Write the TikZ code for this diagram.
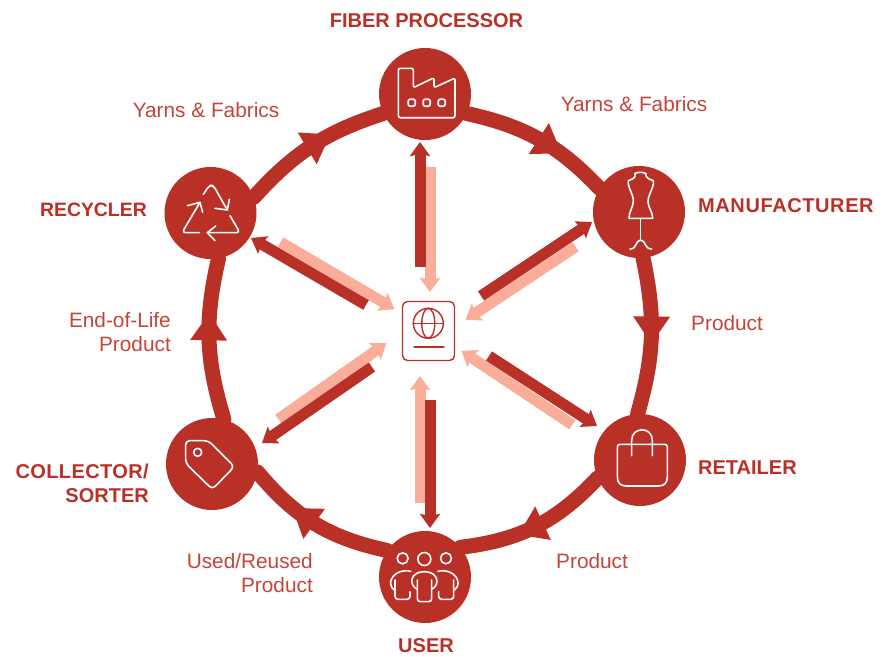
\documentclass[tikz,border=0pt]{standalone}
\usepackage{fontspec}
\setmainfont{Liberation Sans}
\usetikzlibrary{arrows.meta,decorations.markings,backgrounds}
\definecolor{rust}{HTML}{B93027}
\definecolor{salmon}{HTML}{FAAE9A}
\definecolor{labelred}{HTML}{C5443A}
\tikzset{
  x=1pt,y=-1pt,
  hub/.style={circle,fill=rust,minimum size=92pt,inner sep=0pt},
  ring/.style={draw=rust,line width=15pt,line cap=round,decoration={markings,mark=at position #1 with {\fill[rust] (13.5pt,0pt) -- (-13.5pt,18.5pt) -- (-13.5pt,-18.5pt) -- cycle;}},postaction=decorate},
  spokedark/.style={draw=rust,line width=11pt,-{Stealth[inset=2pt,length=14pt,width=20pt]}},
  spokelight/.style={draw=salmon,line width=11pt,-{Stealth[inset=2pt,length=14pt,width=20pt]}},
  icon/.style={draw=white,line width=1.6pt,line cap=round,line join=round,rounded corners=2pt},
  iconb/.style={draw=rust,line width=1.4pt,line cap=round},
  actor/.style={text=rust,font=\fontsize{20}{24}\selectfont\bfseries,align=center,inner sep=0pt},
  flow/.style={text=labelred,font=\fontsize{20.8}{24}\selectfont,inner sep=0pt},
}
\begin{document}
\begin{tikzpicture}
\useasboundingbox (0,0) rectangle (891,656);
% hubs
\node[hub] (fp) at (425,94) {};
\node[hub] (man) at (639,212) {};
\node[hub] (ret) at (640,460) {};
\node[hub] (usr) at (425,577) {};
\node[hub] (col) at (212,464) {};
\node[hub] (rec) at (210.5,213) {};
\node[draw=rust,line width=1.4pt,rounded corners=5pt,minimum width=52pt,minimum height=59pt,inner sep=0pt] (pass) at (428.5,331) {};
% ring
\begin{pgfonlayer}{background}
\draw[ring=0.58] (fp.-25) to[bend left=17] (man.149);
\draw[ring=0.46] (man.-85) to[bend left=14] (ret.93);
\draw[ring=0.536] (ret.203) to[bend left=20] (usr.40);
\draw[ring=0.59] (usr.145) to[bend left=19] (col.-10);
\draw[ring=0.577] (col.75) to[bend left=15] (rec.-80);
\draw[ring=0.55] (rec.20) to[bend left=15] (fp.205);
\end{pgfonlayer}
% spoke ends
\coordinate (a1) at (430,167); \coordinate (a2) at (430,292);
\coordinate (b1) at (420,267); \coordinate (b2) at (420,142);
\coordinate (c1) at (575.6,246.8); \coordinate (c2) at (465.6,319.8);
\coordinate (d1) at (481,296); \coordinate (d2) at (592,222);
\coordinate (e1) at (572.4,424.8); \coordinate (e2) at (461.4,350.8);
\coordinate (f1) at (489,356); \coordinate (f2) at (597,426);
\coordinate (g1) at (420,503); \coordinate (g2) at (420,376);
\coordinate (h1) at (430,400); \coordinate (h2) at (430,528);
\coordinate (i1) at (278.4,419.2); \coordinate (i2) at (386.4,343.2);
\coordinate (j1) at (372,367); \coordinate (j2) at (262,443);
\coordinate (k1) at (280.5,242.1); \coordinate (k2) at (394.5,309.1);
\coordinate (l1) at (366,305); \coordinate (l2) at (251,238);
\draw[spokelight] (a1) -- (a2); \draw[spokedark] (b1) -- (b2);
\draw[spokelight] (c1) -- (c2); \draw[spokedark] (d1) -- (d2);
\draw[spokelight] (e1) -- (e2); \draw[spokedark] (f1) -- (f2);
\draw[spokelight] (g1) -- (g2); \draw[spokedark] (h1) -- (h2);
\draw[spokelight] (i1) -- (i2); \draw[spokedark] (j1) -- (j2);
\draw[spokelight] (k1) -- (k2); \draw[spokedark] (l1) -- (l2);
% passport icon
\draw[iconb] (428.3,323.3) circle[radius=15pt];
\draw[iconb] (428.3,323.3) ellipse[x radius=6.5pt,y radius=15pt];
\draw[iconb] (413.3,323.3) -- (443.3,323.3);
\draw[iconb] (414,347) -- (444,347);
% factory
\draw[icon] (398.3,117.7) -- (398.3,68.3) -- (413.3,68.3) -- (413.3,87.7) -- (434,77.7) -- (434,87.7) -- (455,78) -- (455,117.7) -- cycle;
\foreach \wx in {411.7,426.7,441.7}{\draw[icon] (\wx-3.5,99.2) rectangle (\wx+3.5,106.2);}
% recycle
\begin{scope}[shift={(150,150)},x=0.3333pt,y=-0.3333pt]
\draw[icon,rounded corners=3.5pt] (160,133) -- (178,106) -- (190,106) -- (232,180);
\draw[icon,rounded corners=0pt] (195,175) -- (232,180) -- (238,148);
\draw[icon,rounded corners=3.5pt] (150,157) -- (96,248) -- (148,248);
\draw[icon,rounded corners=0pt] (112,167) -- (150,157) -- (158,187);
\draw[icon,rounded corners=3.5pt] (240,197) -- (270,248) -- (172,248);
\draw[icon,rounded corners=0pt] (197,228) -- (172,248) -- (195,272);
\end{scope}
% dress form
\begin{scope}[shift={(580,150)},x=0.3333pt,y=-0.3333pt]
\draw[icon,rounded corners=0pt] (165,70) .. controls (168,84) and (160,86) .. (145,92) -- (145,102) .. controls (150,125) and (162,140) .. (160,155) .. controls (158,175) and (147,185) .. (147,205) -- (218,205) .. controls (218,185) and (205,175) .. (204,155) .. controls (203,140) and (215,125) .. (220,102) -- (220,92) .. controls (205,86) and (197,84) .. (197,70) .. controls (187,66) and (175,66) .. (165,70) -- cycle;
\draw[icon] (182,205) -- (182,268);
\draw[icon,rounded corners=0pt] (150,297) .. controls (172,297) and (165,272) .. (182,270) .. controls (199,272) and (192,297) .. (215,297);
\end{scope}
% tag
\begin{scope}[shift={(155,410)},x=0.3333pt,y=-0.3333pt]
\draw[icon,rounded corners=4pt] (92,92) -- (160,92) -- (238,170) -- (172,238) -- (92,160) -- cycle;
\draw[icon] (128,127) circle[radius=4pt];
\end{scope}
% bag
\begin{scope}[shift={(585,405)},x=0.3333pt,y=-0.3333pt]
\draw[icon,rounded corners=0pt] (105,118) -- (239,118) .. controls (244,118) and (247,121) .. (247,126) -- (247,215) .. controls (247,234) and (238,243) .. (220,243) -- (124,243) .. controls (106,243) and (97,234) .. (97,215) -- (97,126) .. controls (97,121) and (100,118) .. (105,118) -- cycle;
\draw[icon,rounded corners=0pt] (140,152) -- (140,106) .. controls (140,64) and (202,64) .. (202,106) -- (202,152);
\end{scope}
% people
\begin{scope}[shift={(360,530)},x=0.3333pt,y=-0.3333pt]
\draw[icon] (128,85) circle[radius=5.5pt];
\draw[icon] (193,87) circle[radius=6.5pt];
\draw[icon] (258,85) circle[radius=5.5pt];
\draw[icon,rounded corners=0pt] (172,178) .. controls (145,165) and (150,125) .. (193,125) .. controls (236,125) and (241,165) .. (215,178);
\draw[icon,rounded corners=3pt] (172,150) -- (172,215) -- (215,215) -- (215,150);
\draw[icon,rounded corners=0pt] (152,124) .. controls (105,112) and (72,160) .. (105,182);
\draw[icon,rounded corners=3pt] (105,150) -- (105,208) -- (150,208) -- (150,185);
\draw[icon,rounded corners=0pt] (234,124) .. controls (281,112) and (314,160) .. (281,182);
\draw[icon,rounded corners=3pt] (281,150) -- (281,208) -- (236,208) -- (236,185);
\end{scope}
% actors
\node[actor] (tfp) at (426.5,21) {FIBER PROCESSOR};
\node[actor,anchor=west] (tman) at (698,206) {\addfontfeature{LetterSpace=3}MANUFACTURER};
\node[actor,anchor=west] (tret) at (698,468) {RETAILER};
\node[actor] (tusr) at (426,645.5) {USER};
\node[actor,align=right,anchor=east] (tcol) at (149,483) {\addfontfeature{LetterSpace=2}COLLECTOR/\\SORTER};
\node[actor,anchor=east,font=\fontsize{19.4}{24}\selectfont\bfseries] (trec) at (147,210) {RECYCLER};
% flows
\node[flow] (l1n) at (206,110) {Yarns \& Fabrics};
\node[flow] (l2n) at (634,104) {Yarns \& Fabrics};
\node[flow,anchor=west] (l3n) at (691,323) {Product};
\node[flow,anchor=west] (l4n) at (556,561) {Product};
\node[flow,align=right,anchor=east] (l5n) at (313,573) {Used/Reused\\Product};
\node[flow,align=right,anchor=east] (l6n) at (171,332) {End-of-Life\\Product};
\end{tikzpicture}
\end{document}
